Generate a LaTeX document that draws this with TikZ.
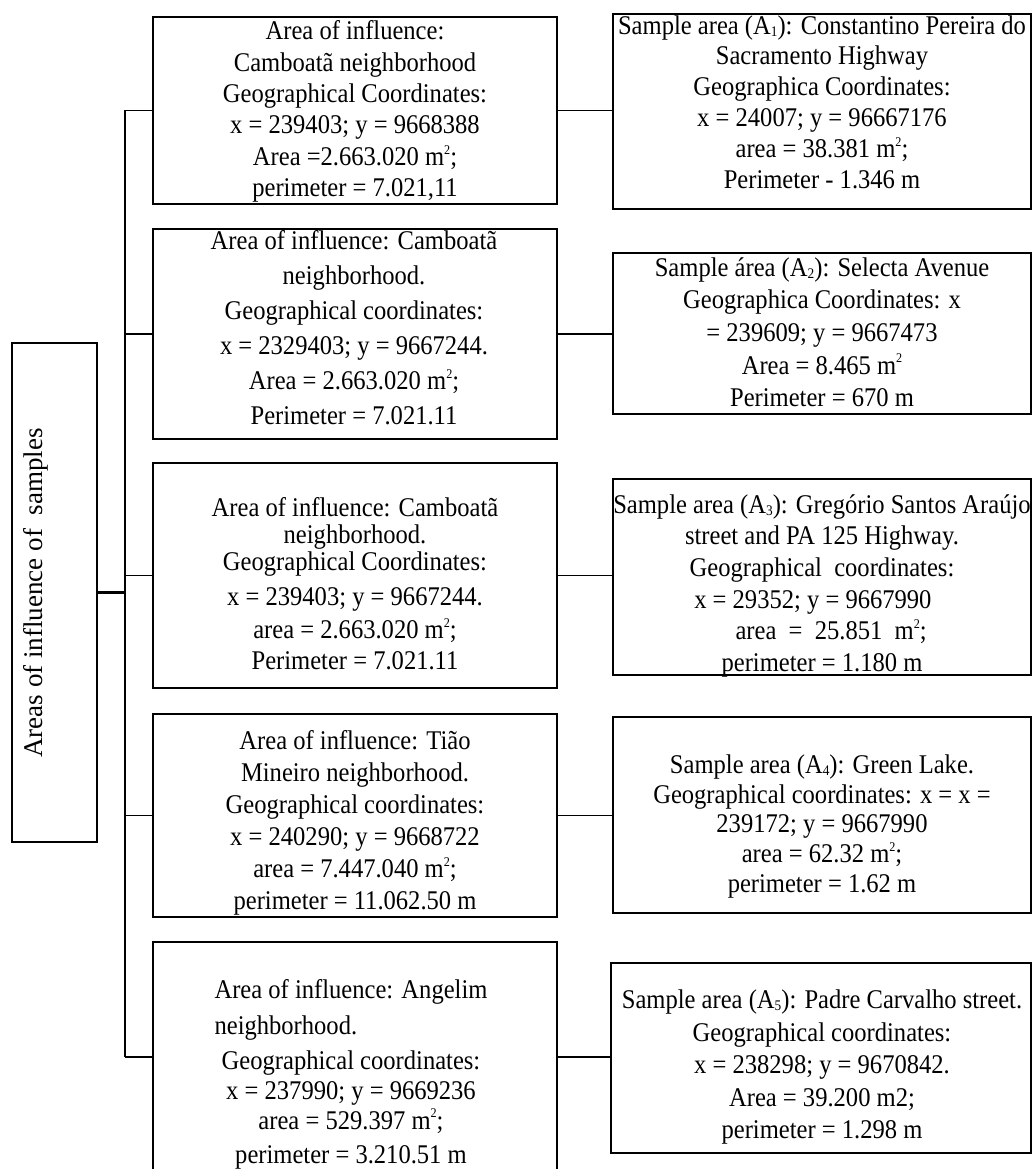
\documentclass[tikz,border=0pt]{standalone}
\usepackage{fontspec}
\setmainfont{Liberation Serif}
\usepackage{graphicx}
\newcommand\tbl[2]{\scalebox{0.91}[1]{\fontsize{20.25}{24}\selectfont\def\arraystretch{#1}\begin{tabular}{@{}c@{}}#2\end{tabular}}}
\newcommand\sqm{m\raisebox{0.42em}{\fontsize{10}{10}\selectfont 2}}
\newcommand\subd[1]{\raisebox{-0.08em}{\fontsize{11}{11}\selectfont #1}}
\begin{document}
\begin{tikzpicture}[x=0.75pt,y=-0.75pt,
  box/.style={draw, line width=1.2pt, inner sep=0pt, outer sep=0pt},
  txt/.style={inner sep=0pt, outer sep=0pt},
  conn/.style={line width=1.2pt},
  trunk/.style={line width=2pt}]
\useasboundingbox (0,0) rectangle (1033,1169);
\clip (0,0) rectangle (1033,1169);
% root
\node[box, minimum width=63.75pt, minimum height=374.25pt] (root) at (54.5,592.5) {};
\node[txt, rotate=90, font=\fontsize{20.25}{24}\selectfont] (roott) at (36,593) {Areas of influence of\ \ samples};
% middle boxes
\node[box, minimum width=303pt, minimum height=140.25pt] (m1) at (355,110.5) {};
\node[box, minimum width=303pt, minimum height=157.5pt] (m2) at (355,334) {};
\node[box, minimum width=303pt, minimum height=168.75pt] (m3) at (355,575.5) {};
\node[box, minimum width=303pt, minimum height=152.25pt] (m4) at (355,815.5) {};
\node[box, minimum width=303pt, minimum height=172.5pt] (m5) at (355,1057) {};
% right boxes
\node[box, minimum width=313.5pt, minimum height=146.25pt] (r1) at (822,111.5) {};
\node[box, minimum width=313.5pt, minimum height=120.75pt] (r2) at (822,333.5) {};
\node[box, minimum width=313.5pt, minimum height=147pt] (r3) at (822,577) {};
\node[box, minimum width=313.5pt, minimum height=147pt] (r4) at (822,815) {};
\node[box, minimum width=315pt, minimum height=142.5pt] (r5) at (821,1058) {};
% texts middle
\node[txt] (t1) at (355,112) {\tbl{0.981}{Area of influence:\\ Camboatã neighborhood\\ Geographical Coordinates:\\ x = 239403; y = 9668388\\ Area =2.663.020 \sqm;\\ perimeter = 7.021,11}};
\node[txt] (t2) at (354,330) {\tbl{1.094}{Area of influence: Camboatã\\ neighborhood.\\ Geographical coordinates:\\ x = 2329403; y = 9667244.\\ Area = 2.663.020 \sqm;\\ Perimeter = 7.021.11}};
\node[txt] (t3) at (355,587.5) {\tbl{0.84}{Area of influence: Camboatã\\ neighborhood.\\ Geographical Coordinates:\\[6pt] x = 239403; y = 9667244.\\[4pt] area = 2.663.020 \sqm;\\[3pt] Perimeter = 7.021.11}};
\node[txt] (t4) at (355,823) {\tbl{1.0}{Area of influence: Tião\\ Mineiro neighborhood.\\ Geographical coordinates:\\ x = 240290; y = 9668722\\ area = 7.447.040 \sqm;\\ perimeter = 11.062.50 m}};
\node[txt] (t5) at (351,1074.5) {\tbl{0.9375}{Area of influence: Angelim\\[4.5pt] \multicolumn{1}{@{}l@{}}{neighborhood.}\\[3.75pt] Geographical coordinates:\\ x = 237990; y = 9669236\\ area = 529.397 \sqm;\\[3pt] perimeter = 3.210.51 m}};
% texts right
\node[txt] (u1) at (822,105) {\tbl{0.9625}{Sample area (A\subd{1}): Constantino Pereira do\\ Sacramento Highway\\ Geographica Coordinates:\\ x = 24007; y = 96667176\\ area = 38.381 \sqm;\\ Perimeter - 1.346 m}};
\node[txt] (u2) at (822,335) {\tbl{1.016}{Sample área (A\subd{2}): Selecta Avenue\\ Geographica Coordinates: x\\ = 239609; y = 9667473\\ Area = 8.465 \sqm\\ Perimeter = 670 m}};
\node[txt] (u3) at (822,586) {\tbl{0.9875}{Sample area (A\subd{3}): Gregório Santos Araújo\\ street and PA 125 Highway.\\ Geographical\ \ coordinates:\\ x = 29352; y = 9667990\hspace*{15pt}\\ \hspace*{15pt}area\ \ =\ \ 25.851\ \ \sqm;\\ perimeter = 1.180 m}};
\node[txt] (u4) at (822,827) {\tbl{0.93}{Sample area (A\subd{4}): Green Lake.\\ Geographical coordinates: x = x =\\ 239172; y = 9667990\\ area = 62.32 \sqm;\\ perimeter = 1.62 m}};
\node[txt] (u5) at (822,1067) {\tbl{1.016}{Sample area (A\subd{5}): Padre Carvalho street.\\ Geographical coordinates:\\ x = 238298; y = 9670842.\\ Area = 39.200 m2;\\ perimeter = 1.298 m}};
% connectors
\coordinate (tt) at (125,110.5);
\coordinate (tb) at (125,1057);
\draw[trunk] (tt) -- (tb);
\draw[trunk] (root.east) -- (root.east -| tt);
\foreach \m in {m1,m2,m3,m4,m5}{\draw[conn] (\m.west -| tt) -- (\m.west);}
\draw[conn] (m1.east) -- (m1.east -| r1.west);
\draw[conn] (m2.east) -- (m2.east -| r2.west);
\draw[conn] (m3.east) -- (m3.east -| r3.west);
\draw[conn] (m4.east) -- (m4.east -| r4.west);
\draw[conn] (m5.east) -- (m5.east -| r5.west);
\end{tikzpicture}
\end{document}
